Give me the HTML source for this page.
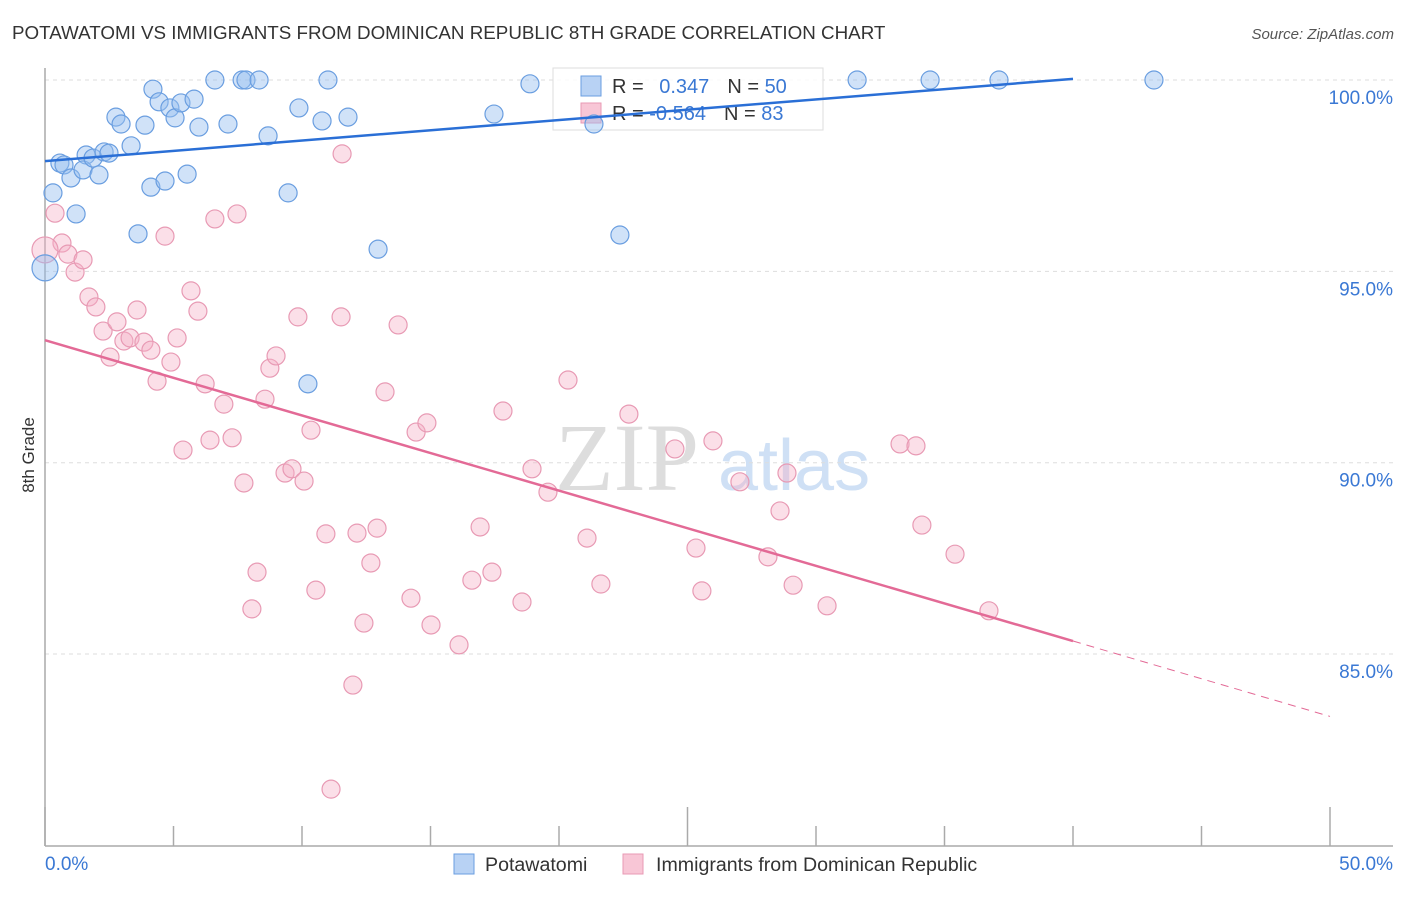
<!DOCTYPE html>
<html><head><meta charset="utf-8"><style>
body{margin:0;background:#fff;font-family:"Liberation Sans",sans-serif}
</style></head><body>
<svg id="c" width="1406" height="892" viewBox="0 0 1406 892" xmlns="http://www.w3.org/2000/svg" font-family="Liberation Sans, sans-serif">
<text x="12" y="39" font-size="18.8" fill="#333">POTAWATOMI VS IMMIGRANTS FROM DOMINICAN REPUBLIC 8TH GRADE CORRELATION CHART</text>
<text x="1394" y="39" font-size="15" fill="#555" text-anchor="end" font-style="italic">Source: ZipAtlas.com</text>
<g><text x="555" y="490" font-size="96" fill="#ddd" font-family="Liberation Serif, serif">ZIP</text><text x="718" y="490" font-size="72" fill="#cfe0f5">atlas</text></g>
<g id="grid"></g><g id="axes"></g>
<g>
<rect x="553" y="68" width="270" height="62" fill="#fff" fill-opacity="0.85" stroke="#ddd"/>
<rect x="581" y="76" width="20" height="20" fill="#b8d2f4" stroke="#6a9ee0"/>
<rect x="581" y="103" width="20" height="20" fill="#f8c6d6" stroke="#e89ab4"/>
<text x="612" y="93" font-size="20" fill="#333">R = <tspan fill="#3a78d4" dx="10">0.347</tspan><tspan dx="18" fill="#333">N = </tspan><tspan fill="#3a78d4">50</tspan></text>
<text x="612" y="120" font-size="20" fill="#333">R = <tspan fill="#3a78d4" dx="0">-0.564</tspan><tspan dx="18" fill="#333">N = </tspan><tspan fill="#3a78d4">83</tspan></text>
</g>
<g id="pts"></g><g id="lines"></g>
<text transform="translate(34,455) rotate(-90)" font-size="17" fill="#333" text-anchor="middle">8th Grade</text>
<g>
<rect x="454" y="854" width="20" height="20" fill="#b8d2f4" stroke="#6a9ee0"/>
<text x="485" y="871" font-size="19.6" fill="#333">Potawatomi</text>
<rect x="623" y="854" width="20" height="20" fill="#f8c6d6" stroke="#e89ab4"/>
<text x="656" y="871" font-size="19.6" fill="#333">Immigrants from Dominican Republic</text>
</g>
</svg>
<script>
const yTicks=[100,95,90,85];
const yTickLabels=["100.0%","95.0%","90.0%","85.0%"];
const xTicks=[0,5,10,15,20,25,30,35,40,45,50];
const blueX=[0.31,0.58,0.74,1.01,1.21,1.60,1.48,1.87,2.10,2.30,2.49,2.76,2.96,3.35,3.62,3.89,4.12,4.20,4.44,4.67,4.86,5.06,5.29,5.53,5.80,5.99,6.61,7.12,7.67,7.82,8.33,8.68,9.46,9.88,10.23,10.78,11.01,11.79,12.96,17.47,18.87,21.36,22.37,31.60,34.44,37.12,43.15];
const blueY=[97.05,97.83,97.78,97.44,96.50,98.04,97.65,97.96,97.52,98.12,98.09,99.03,98.85,98.28,95.98,98.82,97.20,99.76,99.43,97.36,99.27,99.01,99.40,97.54,99.50,98.77,100,98.85,100,100,100,98.54,97.05,99.27,92.06,98.93,100,99.03,95.58,99.11,99.90,98.85,95.95,100,100,100,100];
const pinkX=[0.39,0.66,0.89,1.17,1.48,1.71,1.98,2.26,2.53,2.80,3.07,3.31,3.58,3.85,4.12,4.36,4.67,4.90,5.14,5.37,5.68,5.95,6.23,6.42,6.61,6.96,7.28,7.47,7.74,8.05,8.25,8.56,8.75,8.99,9.34,9.61,9.84,10.08,10.35,10.54,10.93,11.13,11.52,11.56,11.98,12.14,12.41,12.68,12.92,13.23,13.74,14.24,14.44,14.86,15.02,16.11,16.61,16.93,17.39,17.82,18.56,18.95,19.57,20.35,21.09,21.63,22.72,24.51,25.33,25.56,25.99,27.04,28.13,28.60,28.87,29.11,30.43,33.27,33.89,34.12,35.41,36.73];
const pinkY=[96.52,95.74,95.45,94.98,95.30,94.33,94.07,93.44,92.76,93.68,93.18,93.26,93.99,93.15,92.94,92.13,95.92,92.63,93.26,90.33,94.49,93.96,92.06,90.59,96.37,91.53,90.65,96.50,89.47,86.18,87.14,91.66,92.47,92.79,89.73,89.84,93.81,89.52,90.85,86.67,88.14,81.47,93.81,98.07,84.19,88.16,85.81,87.38,88.29,91.85,93.60,86.46,90.80,91.04,85.76,85.24,86.93,88.32,87.14,91.35,86.36,89.84,89.23,92.16,88.03,86.83,91.27,90.36,87.77,86.65,90.57,89.50,87.54,88.74,89.73,86.80,86.26,90.49,90.44,88.37,87.61,86.13];
const bigBlue=[0,95.09];
const bigPink=[0,95.56];
const blueTrend=[[0,97.88],[40,100.03]];
const pinkTrend=[[0,93.2],[40,85.34]];
const pinkTrendExt=[[40,85.34],[50,83.37]];

const NS="http://www.w3.org/2000/svg";
const X=v=>45+v*25.7;
const Y=v=>80+(100-v)*38.27;
function mk(tag,attrs,parent){const e=document.createElementNS(NS,tag);for(const k in attrs)e.setAttribute(k,attrs[k]);document.getElementById(parent).appendChild(e);return e;}
yTicks.forEach((t,i)=>{
  const l=mk('line',{x1:45,x2:1393,y1:Y(t),y2:Y(t),stroke:'#ddd','stroke-dasharray':'4,4'},'grid');
  
  
  const tx=mk('text',{x:1393,y:Y(t)+24,'font-size':19,fill:'#3a78d4','text-anchor':'end'},'grid');
  tx.textContent=yTickLabels[i];
  
  
});
let a=mk('line',{x1:45,x2:45,y1:68,y2:846,stroke:'#aaa','stroke-width':1.5},'axes');


a=mk('line',{x1:45,x2:1393,y1:846,y2:846,stroke:'#aaa','stroke-width':1.5},'axes');


xTicks.forEach(t=>{
  const tk=mk('line',{x1:X(t),x2:X(t),y1:(t%25===0?807:826),y2:846,stroke:'#aaa','stroke-width':1.5},'axes');
  
  
});
let xl=mk('text',{x:45,y:870,'font-size':19,fill:'#3a78d4'},'axes');xl.textContent='0.0%';


xl=mk('text',{x:1393,y:870,'font-size':19,fill:'#3a78d4','text-anchor':'end'},'axes');xl.textContent='50.0%';


function dot(x,y,r,blue){
  const c=mk('circle',{cx:X(x),cy:Y(y),r:r,fill:blue?'rgba(150,190,240,0.45)':'rgba(245,175,198,0.4)',stroke:blue?'#6a9ee0':'#e89ab4','stroke-width':1.2},'pts');
  
  
}
pinkX.forEach((x,i)=>dot(x,pinkY[i],9,false));
dot(bigPink[0],bigPink[1],13,false);
blueX.forEach((x,i)=>dot(x,blueY[i],9,true));
dot(bigBlue[0],bigBlue[1],13,true);
let ln=mk('line',{x1:X(blueTrend[0][0]),y1:Y(blueTrend[0][1]),x2:X(blueTrend[1][0]),y2:Y(blueTrend[1][1]),stroke:'#2a6fd6','stroke-width':2.5},'lines');


ln=mk('line',{x1:X(pinkTrend[0][0]),y1:Y(pinkTrend[0][1]),x2:X(pinkTrend[1][0]),y2:Y(pinkTrend[1][1]),stroke:'#e36a96','stroke-width':2.5},'lines');


ln=mk('line',{x1:X(pinkTrendExt[0][0]),y1:Y(pinkTrendExt[0][1]),x2:X(pinkTrendExt[1][0]),y2:Y(pinkTrendExt[1][1]),stroke:'#e36a96','stroke-width':1,'stroke-dasharray':'8,6'},'lines');


</script>
</body></html>
